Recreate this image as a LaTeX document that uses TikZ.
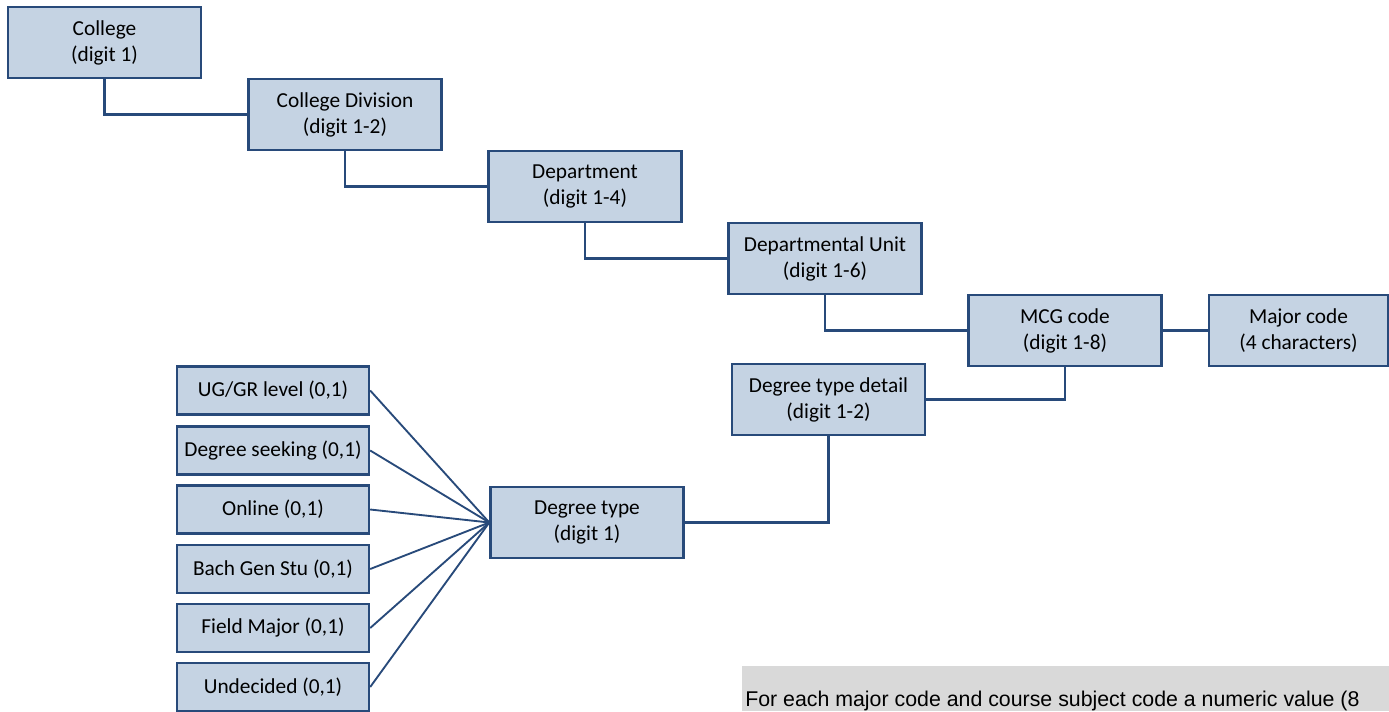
\documentclass[tikz,border=0pt]{standalone}
\usepackage{fontspec}
\setmainfont{Carlito}
\newfontfamily\notefont{Liberation Sans}
\definecolor{boxfill}{RGB}{197,211,227}
\definecolor{boxline}{RGB}{40,74,122}
\definecolor{notegray}{RGB}{217,217,217}
\begin{document}
\begin{tikzpicture}[x=0.75pt,y=-0.75pt,
  box/.style={draw=boxline, fill=boxfill, line width=1.8pt, align=center, inner sep=0pt,
    minimum width=144.75pt, minimum height=53.25pt,
    font=\fontsize{16pt}{19.5pt}\selectfont},
  smallbox/.style={box, minimum width=144pt, minimum height=36pt},
  conn/.style={draw=boxline, line width=1.8pt},
  fan/.style={draw=boxline, line width=1.4pt}]
\useasboundingbox (0,0) rectangle (1389,711);
\node[box] (college) at (104.5,42.5) {College\\(digit 1)};
\node[box] (colldiv) at (345,114.5) {College Division\\(digit 1-2)};
\node[box] (dept) at (585,186.5) {Department\\(digit 1-4)};
\node[box] (unit) at (825,258.5) {Departmental Unit\\(digit 1-6)};
\node[box] (mcg) at (1065,330.5) {MCG code\\(digit 1-8)};
\node[box, minimum width=134.25pt] (major) at (1298.5,330.5) {Major code\\(4 characters)};
\node[box] (dtd) at (828.5,399.5) {Degree type detail\\(digit 1-2)};
\node[box] (dt) at (587,522.5) {Degree type\\(digit 1)};
\node[smallbox] (ug) at (273,390.5) {UG/GR level (0,1)};
\node[smallbox] (ds) at (273,450.5) {Degree seeking (0,1)};
\node[smallbox] (on) at (273,509.5) {Online (0,1)};
\node[smallbox] (bgs) at (273,569) {Bach Gen Stu (0,1)};
\node[smallbox] (fm) at (273,628) {Field Major (0,1)};
\node[smallbox] (und) at (273,687) {Undecided (0,1)};
\node[fill=notegray, inner sep=0pt, minimum width=485.25pt, minimum height=33.75pt, anchor=north west] (note) at (742,666) {};
\node[anchor=base west, inner sep=0pt, font=\notefont\fontsize{16pt}{19pt}\selectfont] (notetext) at (745,706) {For each major code and course subject code a numeric value (8};
\draw[conn] (college.south) |- (colldiv.west);
\draw[conn] (colldiv.south) |- (dept.west);
\draw[conn] (dept.south) |- (unit.west);
\draw[conn] (unit.south) |- (mcg.west);
\draw[conn] (mcg.east) -- (major.west);
\draw[conn] (mcg.south) |- (dtd.east);
\draw[conn] (dtd.south) |- (dt.east);
\foreach \n in {ug,ds,on,bgs,fm,und} \draw[fan] (\n.east) -- (dt.west);
\end{tikzpicture}
\end{document}
